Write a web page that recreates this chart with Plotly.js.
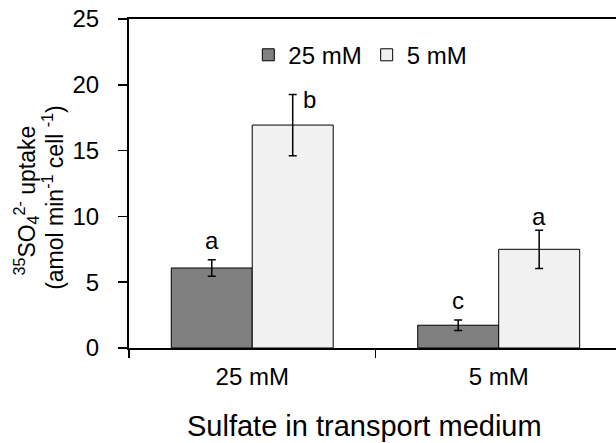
<!DOCTYPE html>
<html>
<head>
<meta charset="utf-8">
<script src="https://cdn.plot.ly/plotly-3.0.1.min.js"></script>
<style>html,body{margin:0;padding:0;background:#fff;}#chart{width:616px;height:443px;}</style>
</head>
<body>
<div id="chart"></div>
<script>
// Data
var categories = ['25 mM', '5 mM'];
var seriesNames = ['25 mM', '5 mM'];
var uptake25 = [6.08, 1.73];
var err25 = [0.63, 0.40];
var uptake5 = [16.94, 7.50];
var err5 = [2.33, 1.45];
var letters25 = ['a', 'c'];
var letters5 = ['b', 'a'];
var letterY25 = [8.2, 3.6];
var letterY5 = [18.9, 10.0];
var yTicks = [0, 5, 10, 15, 20, 25];
var yTitleLines = ['<sup>35</sup>SO<sub>4</sub><sup>2-</sup> uptake', '(amol min<sup>-1</sup> cell <sup>-1</sup>)'];
var xTitle = 'Sulfate in transport medium';

var FONT = 'Liberation Sans, Arial, Helvetica, sans-serif';
var BARGAP = 0.343;

var traces = [
  {
    type: 'bar', name: seriesNames[0], x: categories, y: uptake25,
    marker: {color: '#808080', line: {color: '#000', width: 1}},
    error_y: {type: 'data', array: err25, visible: true, color: '#000', thickness: 1.5, width: 4}
  },
  {
    type: 'bar', name: seriesNames[1], x: categories, y: uptake5,
    marker: {color: '#f1f1f1', line: {color: '#000', width: 1}},
    error_y: {type: 'data', array: err5, visible: true, color: '#000', thickness: 1.5, width: 4}
  }
];

var half = (1 - BARGAP) / 4;
var annotations = [];
categories.forEach(function (c, i) {
  annotations.push({x: i - half, y: letterY25[i], xref: 'x', yref: 'y', text: letters25[i],
    showarrow: false, font: {family: FONT, size: 24, color: '#000'}, yanchor: 'middle'});
  annotations.push({x: i + half, y: letterY5[i], xref: 'x', yref: 'y', text: letters5[i],
    showarrow: false, font: {family: FONT, size: 24, color: '#000'}, yanchor: 'middle',
    xshift: letters5[i] === 'b' ? 17 : 0});
});
// y-axis title, two lines
annotations.push({
  xref: 'paper', yref: 'paper', x: -0.211, y: 0.449, textangle: -90,
  text: yTitleLines[0], showarrow: false, font: {family: FONT, size: 23, color: '#000'},
  xanchor: 'center', yanchor: 'middle'
});
annotations.push({
  xref: 'paper', yref: 'paper', x: -0.155, y: 0.458, textangle: -90,
  text: yTitleLines[1], showarrow: false, font: {family: FONT, size: 23, color: '#000'},
  xanchor: 'center', yanchor: 'middle'
});
// x-axis title
annotations.push({
  xref: 'paper', yref: 'paper', x: 0.4836, y: -0.236,
  text: xTitle, showarrow: false, font: {family: FONT, size: 29, color: '#000'},
  xanchor: 'center', yanchor: 'middle'
});

var layout = {
  width: 616, height: 443,
  margin: {l: 129, r: 0, t: 19, b: 95},
  paper_bgcolor: '#fff', plot_bgcolor: '#fff',
  barmode: 'group', bargap: BARGAP, bargroupgap: 0,
  font: {family: FONT, color: '#000'},
  showlegend: true,
  legend: {orientation: 'h', x: 0.245, y: 0.89, xanchor: 'left', yanchor: 'middle',
    font: {family: FONT, size: 24, color: '#000'}, itemgap: 0, bgcolor: 'rgba(0,0,0,0)',
    traceorder: 'normal'},
  xaxis: {
    type: 'category', range: [-0.5, 1.476],
    showline: true, linecolor: '#000', linewidth: 2, mirror: true,
    ticks: 'outside', tickson: 'boundaries', ticklen: 8, tickwidth: 1.5, tickcolor: '#000',
    tickfont: {family: FONT, size: 24, color: '#000'}, ticklabelstandoff: 6,
    showgrid: false, zeroline: false
  },
  yaxis: {
    range: [0, 25], tickvals: yTicks, ticktext: yTicks.map(String),
    showline: true, linecolor: '#000', linewidth: 2, mirror: false,
    ticks: 'outside', ticklen: 9, tickwidth: 1.5, tickcolor: '#000',
    tickfont: {family: FONT, size: 24, color: '#000'}, ticklabelstandoff: 14,
    showgrid: false, zeroline: false
  },
  annotations: annotations
};

Plotly.newPlot('chart', traces, layout, {displayModeBar: false, staticPlot: true});
</script>
</body>
</html>
